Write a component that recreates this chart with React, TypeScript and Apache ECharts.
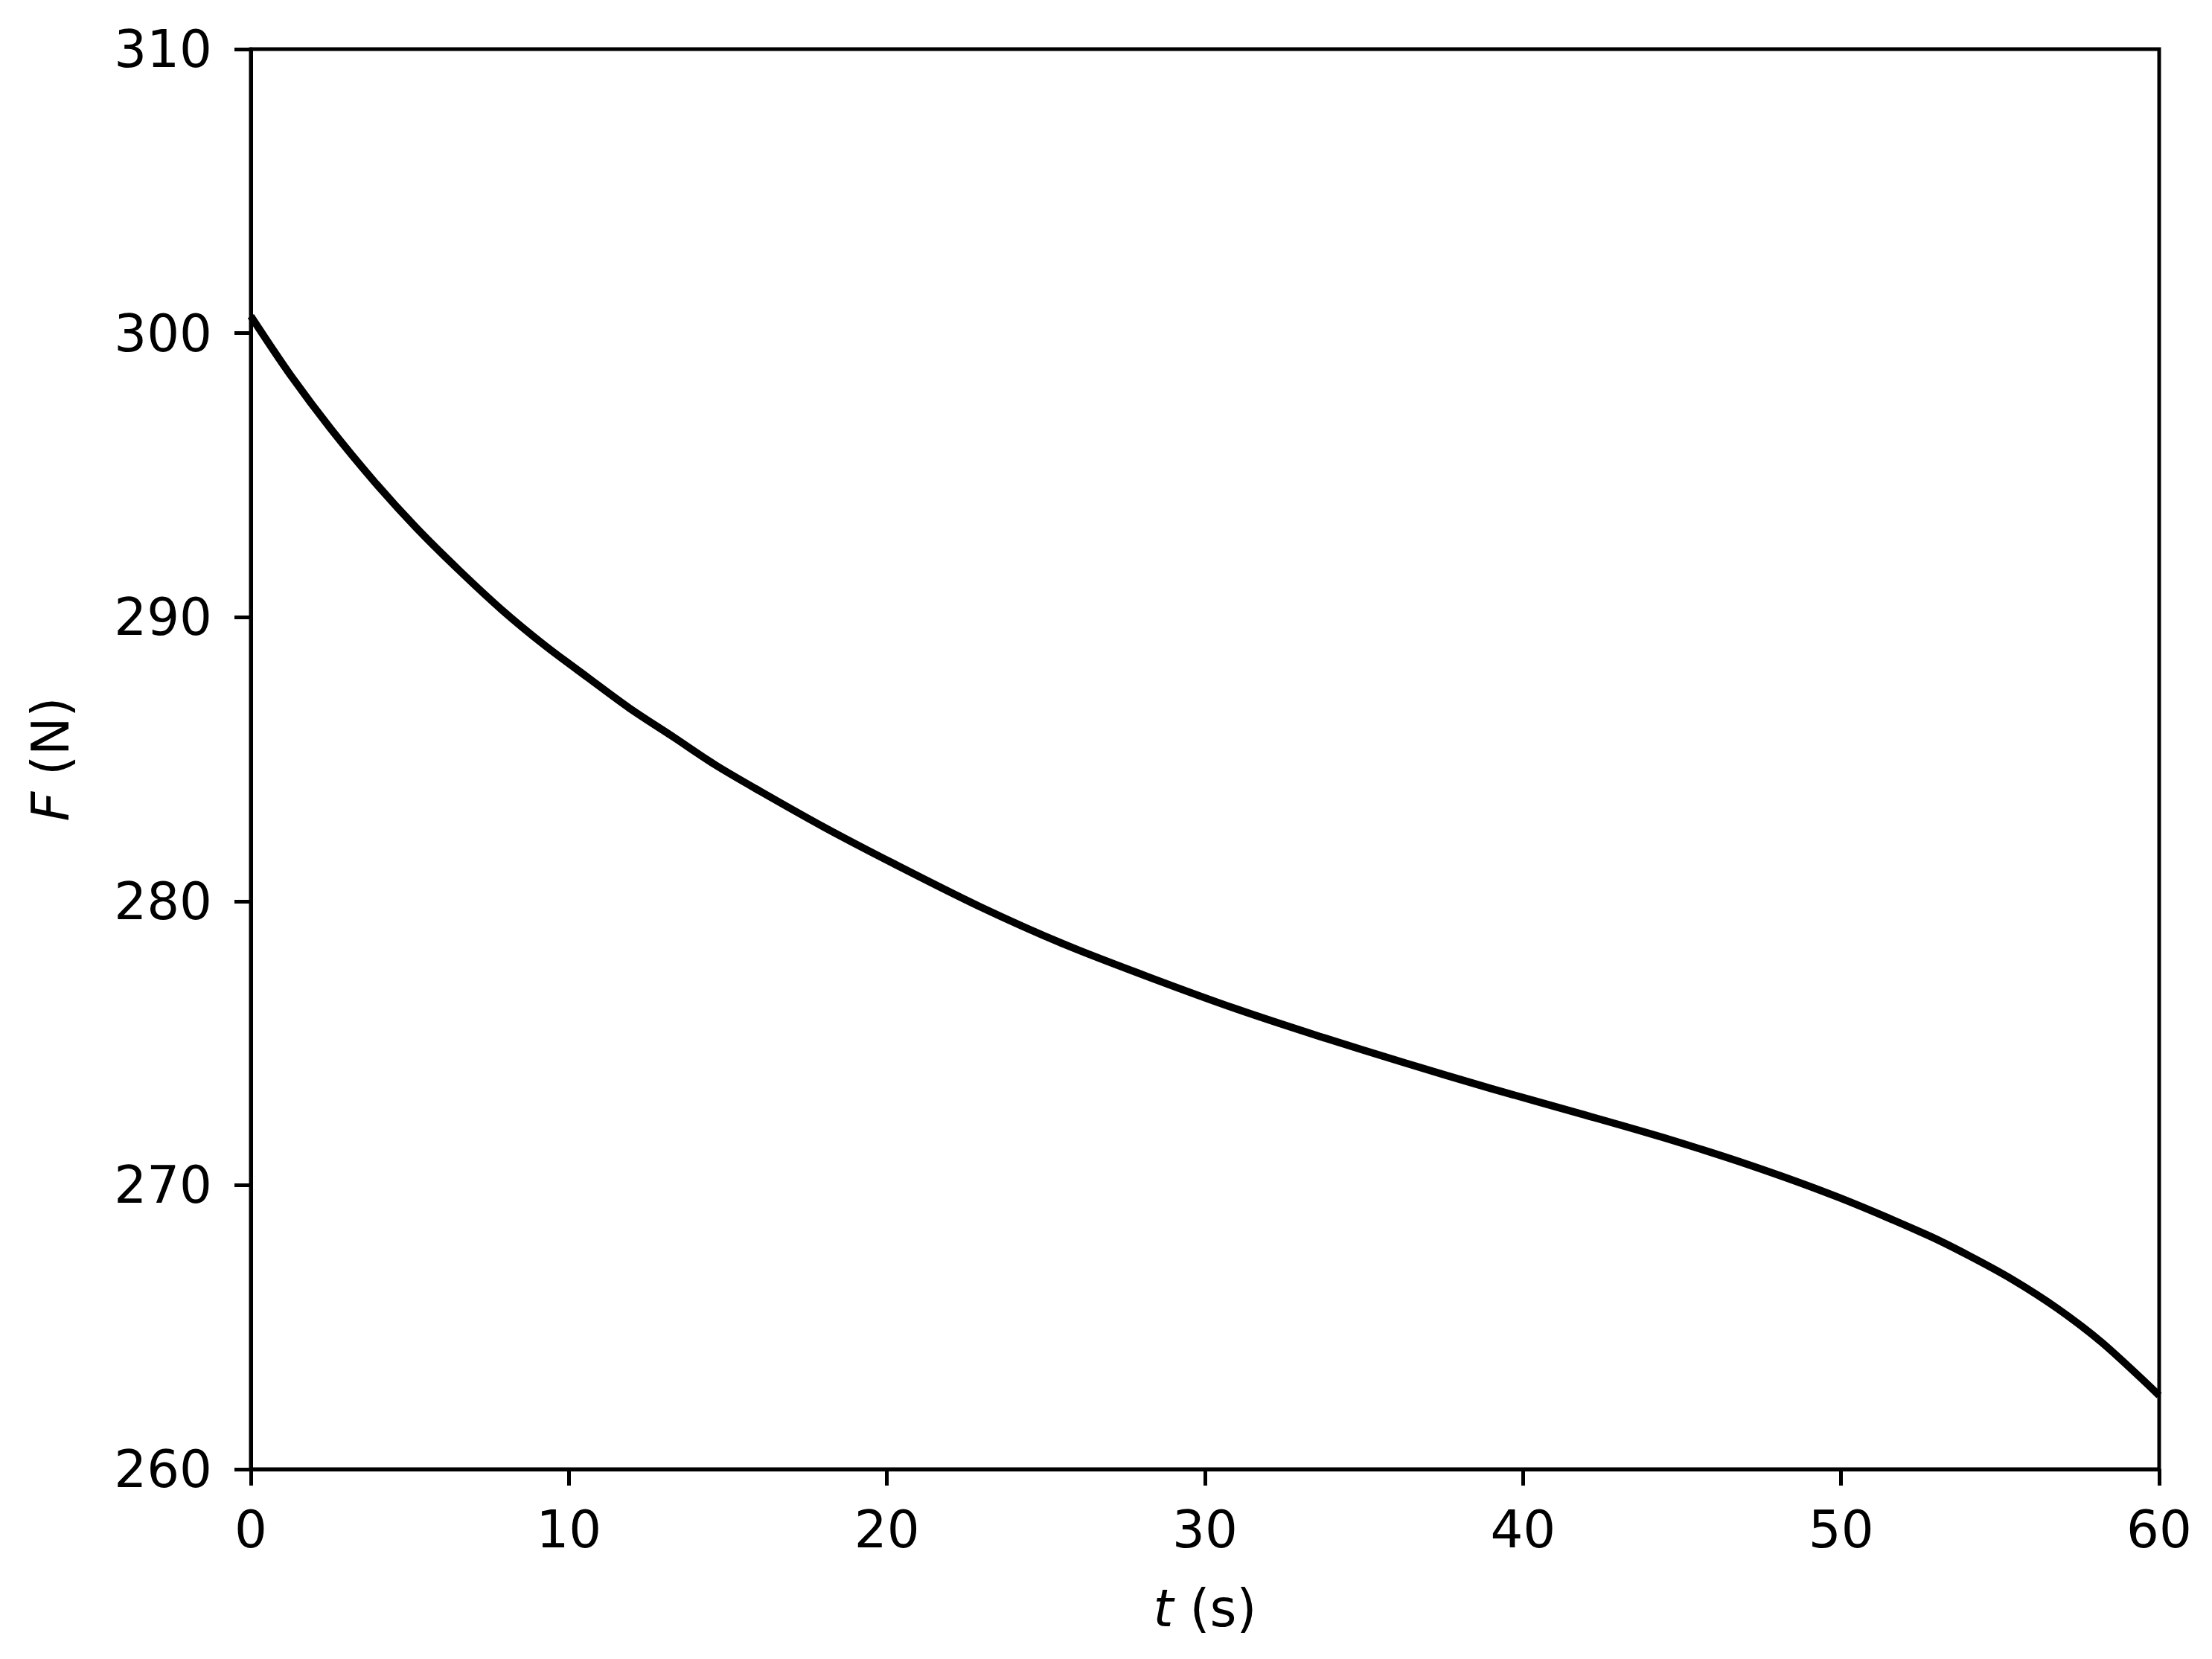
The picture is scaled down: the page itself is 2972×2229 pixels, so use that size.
import React, { useEffect, useRef } from "react";
import * as echarts from "echarts";

// Time (s) and force (N)
const timeS = [0, 1.2, 2.5, 3.9, 5.2, 6.55, 7.9, 9.25, 10.6, 11.9, 13.3, 14.6, 16.0, 18.0, 20.2, 22.9, 25.6, 28.3, 31.0, 33.6, 36.3, 39.0, 41.7, 44.4, 47.2, 49.9, 52.7, 54.0, 55.4, 56.8, 58.2, 60.0];
const forceN = [300.6, 298.6, 296.65, 294.75, 293.15, 291.65, 290.25, 289.0, 287.87, 286.8, 285.77, 284.8, 283.88, 282.62, 281.33, 279.82, 278.47, 277.3, 276.2, 275.24, 274.3, 273.4, 272.55, 271.68, 270.68, 269.58, 268.25, 267.53, 266.67, 265.66, 264.46, 262.6];

const xTicks = [0, 10, 20, 30, 40, 50, 60];
const yTicks = [260, 270, 280, 290, 300, 310];

const FONT = "DejaVu Sans";
const FS = 69;

export default function App() {
  const ref = useRef<HTMLDivElement>(null);
  useEffect(() => {
    if (!ref.current) return;
    const chart = echarts.init(ref.current, null, { renderer: "svg" });
    const axisLine = { show: true, lineStyle: { color: "#000", width: 5 } };
    const axisTick = { show: true, inside: false, length: 22, lineStyle: { color: "#000", width: 5 } };
    const nameStyle = {
      color: "#000",
      fontFamily: FONT,
      fontSize: FS,
      rich: { i: { fontStyle: "italic", fontFamily: FONT, fontSize: FS, color: "#000" } },
    };
    chart.setOption({
      animation: false,
      backgroundColor: "#fff",
      grid: {
        left: 337,
        top: 66,
        right: 2972 - 2901,
        bottom: 2229 - 1974,
        show: true,
        borderColor: "#000",
        borderWidth: 5,
        backgroundColor: "transparent",
        containLabel: false,
      },
      xAxis: {
        type: "value",
        min: xTicks[0],
        max: xTicks[xTicks.length - 1],
        interval: 10,
        axisLine,
        axisTick,
        splitLine: { show: false },
        axisLabel: { color: "#000", fontFamily: FONT, fontSize: FS, margin: 46 },
        name: "{i|t} (s)",
        nameLocation: "middle",
        nameGap: 152,
        nameTextStyle: nameStyle,
      },
      yAxis: {
        type: "value",
        min: yTicks[0],
        max: yTicks[yTicks.length - 1],
        interval: 10,
        axisLine,
        axisTick,
        splitLine: { show: false },
        axisLabel: { color: "#000", fontFamily: FONT, fontSize: FS, margin: 52 },
        name: "{i|F} (N)",
        nameLocation: "middle",
        nameGap: 235,
        nameRotate: 90,
        nameTextStyle: nameStyle,
      },
      series: [
        {
          type: "line",
          data: timeS.map((t, i) => [t, forceN[i]]),
          showSymbol: false,
          smooth: 0.3,
          lineStyle: { color: "#000", width: 10 },
          clip: false,
        },
      ],
    });
    return () => chart.dispose();
  }, []);
  return (
    <div
      ref={ref}
      style={{ position: "fixed", left: 0, top: 0, width: 2972, height: 2229, background: "#fff" }}
    />
  );
}
